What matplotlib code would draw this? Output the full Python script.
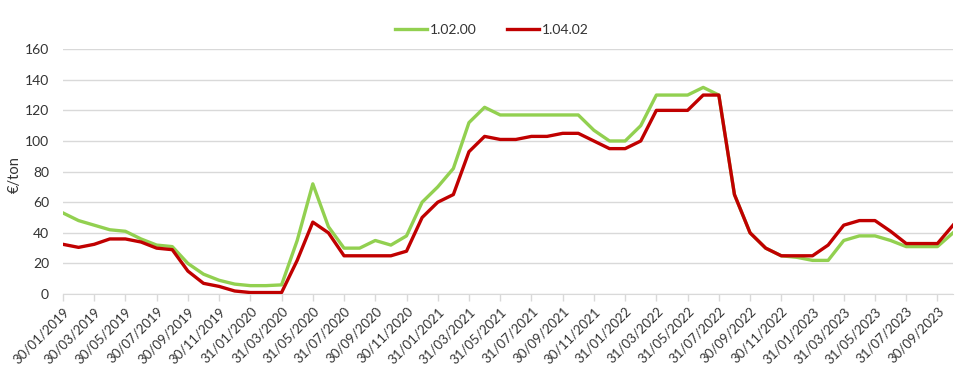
import matplotlib
matplotlib.use("Agg")
import matplotlib.pyplot as plt

plt.rcParams['font.family'] = ['Lato', 'DejaVu Sans']

# monthly values, Jan 2019 .. Oct 2023
green_1_02_00 = [53, 48, 45, 42, 41, 36, 32, 31, 20, 13,
                 9, 6.5, 5.5, 5.5, 6, 35, 72, 44, 30, 30,
                 35, 32, 38, 60, 70, 82, 112, 122, 117, 117,
                 117, 117, 117, 117, 107, 100, 100, 110, 130, 130,
                 130, 135, 130, 65, 40, 30, 25, 24, 22, 22,
                 35, 38, 38, 35, 31, 31, 31, 40]
red_1_04_02 = [32.5, 30.5, 32.5, 36, 36, 34, 30, 29, 15, 7,
               5, 2, 1, 1, 1, 22, 47, 40, 25, 25,
               25, 25, 28, 50, 60, 65, 93, 103, 101, 101,
               103, 103, 105, 105, 100, 95, 95, 100, 120, 120,
               120, 130, 130, 65, 40, 30, 25, 25, 25, 32,
               45, 48, 48, 41, 33, 33, 33, 45]

tick_labels = ["30/01/2019", "30/03/2019", "30/05/2019", "30/07/2019", "30/09/2019",
               "30/11/2019", "31/01/2020", "31/03/2020", "31/05/2020", "31/07/2020",
               "30/09/2020", "30/11/2020", "31/01/2021", "31/03/2021", "31/05/2021",
               "31/07/2021", "30/09/2021", "30/11/2021", "31/01/2022", "31/03/2022",
               "31/05/2022", "31/07/2022", "30/09/2022", "30/11/2022", "31/01/2023",
               "31/03/2023", "31/05/2023", "31/07/2023", "30/09/2023"]

x = list(range(len(green_1_02_00)))
text_col = "#333333"
grid_col = "#D9D9D9"

fig = plt.figure(figsize=(9.76, 3.9), dpi=100)
ax = fig.add_axes([0.0645, 0.246, 0.912, 0.628])

ax.plot(x, green_1_02_00, color="#92D050", lw=2.4, label="1.02.00", zorder=3)
ax.plot(x, red_1_04_02, color="#C00000", lw=2.4, label="1.04.02", zorder=4)

ax.set_xlim(0, len(x) - 1)
ax.set_ylim(0, 160)
ax.set_yticks(range(0, 161, 20))
ax.grid(axis="y", color=grid_col, lw=1)
ax.set_axisbelow(True)

ax.set_xticks(x[::2])
ax.set_xticklabels(tick_labels, rotation=45, ha="right", rotation_mode="anchor",
                   fontsize=9.5, color=text_col)
ax.tick_params(axis="x", length=5, color=grid_col, width=1, pad=3)
ax.tick_params(axis="y", length=0, labelsize=10, labelcolor=text_col, pad=10)

for s in ["top", "right", "left"]:
    ax.spines[s].set_visible(False)
ax.spines["bottom"].set_color(grid_col)

ax.set_ylabel("€/ton", fontsize=10.5, color=text_col)
ax.yaxis.set_label_coords(-0.046, 0.486)

ax.legend(loc="center", bbox_to_anchor=(0.482, 1.078), ncol=2, frameon=False,
          fontsize=10, handlelength=2.3, columnspacing=2.2, handletextpad=0.2,
          labelcolor=text_col)

fig.savefig("out.png", dpi=100)
